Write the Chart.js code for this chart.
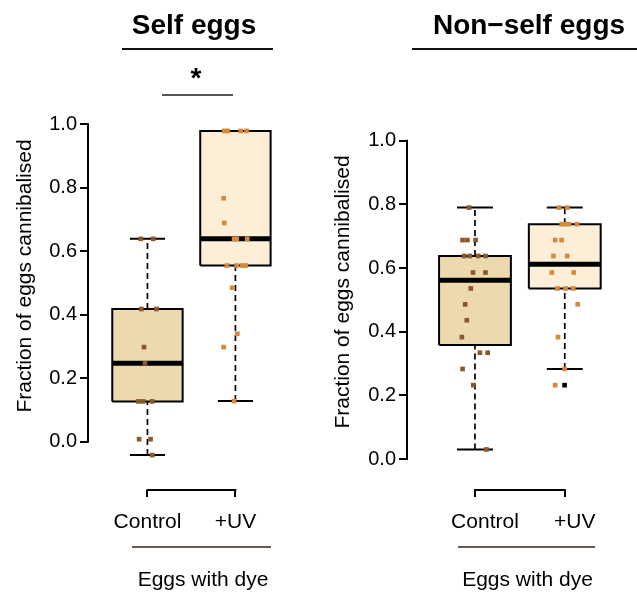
<!DOCTYPE html>
<html>
<head>
<meta charset="utf-8">
<script src="https://cdn.jsdelivr.net/npm/chart.js@4.4.1/dist/chart.umd.min.js"></script>
<style>
  html, body { margin: 0; padding: 0; background: #fff; }
  body { width: 637px; height: 593px; position: relative; overflow: hidden;
         font-family: "Liberation Sans", Arial, sans-serif; }
  canvas { position: absolute; top: 0; }
  .txt { position: absolute; white-space: nowrap; color: #000; line-height: 1; transform: translateX(-50%); }
  .title { font-size: 28px; font-weight: bold; }
  .sub { font-size: 21px; }
  .rule { position: absolute; }
</style>
</head>
<body>
<canvas id="selfChart" style="left:0;width:320px;height:593px" width="320" height="593"></canvas>
<canvas id="nonSelfChart" style="left:320px;width:317px;height:593px" width="317" height="593"></canvas>

<div class="txt title" style="left:194px;top:11.3px">Self eggs</div>
<div class="rule" style="left:122px;top:47.8px;width:151px;height:2.5px;background:#111"></div>
<div class="txt title" style="left:196px;top:63.5px">*</div>
<div class="rule" style="left:162px;top:94.3px;width:71px;height:1.6px;background:#555"></div>

<div class="txt title" style="left:529px;top:11.3px">Non&#8722;self eggs</div>
<div class="rule" style="left:412px;top:47.8px;width:225px;height:2.5px;background:#111"></div>

<div class="rule" style="left:132px;top:545.6px;width:139px;height:2.8px;background:#655b53"></div>
<div class="txt sub" style="left:203px;top:568.2px">Eggs with dye</div>
<div class="rule" style="left:458px;top:545.6px;width:137px;height:2.8px;background:#655b53"></div>
<div class="txt sub" style="left:527.5px;top:568.2px">Eggs with dye</div>

<script>
// ---- data ----
const categories = ['Control', '+UV'];
const yTickValues = [0, 0.2, 0.4, 0.6, 0.8, 1.0];
const yTickLabels = ['0.0', '0.2', '0.4', '0.6', '0.8', '1.0'];
const yAxisTitle = 'Fraction of eggs cannibalised';

// box summaries: [lower whisker, lower quartile, median, upper quartile, upper whisker]
const selfControlBox = [-0.042, 0.127, 0.247, 0.418, 0.639];
const selfUvBox      = [0.128, 0.555, 0.639, 0.979, 0.979];
const nonSelfControlBox = [0.030, 0.358, 0.562, 0.638, 0.790];
const nonSelfUvBox      = [0.283, 0.536, 0.612, 0.738, 0.790];

// individual replicates (fraction eaten) and their horizontal jitter, in category units
const selfControlValues = [0.639, 0.639, 0.418, 0.418, 0.298, 0.247, 0.127, 0.127, 0.127, 0.008, 0.008, -0.042];
const selfControlJitter = [-0.076, 0.065, -0.069, 0.102, -0.039, -0.028, -0.102, -0.05, 0.054, -0.095, 0.035, 0.054];
const selfUvValues = [0.979, 0.979, 0.979, 0.979, 0.767, 0.689, 0.639, 0.639, 0.639, 0.555, 0.555, 0.555, 0.555, 0.485, 0.340, 0.298, 0.128];
const selfUvJitter = [-0.127, -0.089, 0.06, 0.127, -0.134, -0.127, -0.015, 0.015, 0.134, -0.097, 0.015, 0.078, 0.115, -0.037, 0.022, -0.134, -0.015];

const nonSelfControlValues = [0.790, 0.688, 0.688, 0.688, 0.638, 0.638, 0.638, 0.638, 0.586, 0.586, 0.536, 0.486, 0.436, 0.383, 0.334, 0.334, 0.283, 0.232, 0.030];
const nonSelfControlJitter = [-0.066, -0.138, -0.084, 0.007, -0.12, -0.058, 0.036, 0.117, -0.022, 0.117, -0.047, -0.109, -0.091, -0.146, 0.055, 0.142, -0.138, -0.018, 0.128];
const nonSelfUvValues = [0.790, 0.790, 0.738, 0.738, 0.738, 0.738, 0.688, 0.688, 0.638, 0.638, 0.586, 0.586, 0.536, 0.536, 0.536, 0.486, 0.383, 0.283, 0.232];
const nonSelfUvJitter = [-0.064, 0.027, -0.035, 0.009, 0.046, 0.137, -0.107, -0.035, -0.126, 0.027, -0.144, 0.1, -0.082, 0.009, 0.093, 0.144, -0.075, -0.002, -0.107];
const nonSelfUvOutliers = [0.232];
const nonSelfUvOutlierJitter = [-0.002];

// ---- styling ----
const FONT = '"Liberation Sans", Arial, sans-serif';
const BOX_HALF = 0.4;
const CAP_HALF = 0.2;
const fills = ['#ecd9ad', '#fdefd7'];
const dots = ['#8a5829', '#d6893d'];

function seg(x0, y0, x1, y1) { return [{ x: x0, y: y0 }, { x: x1, y: y1 }]; }

function lineDs(data, width, order, dash) {
  return { type: 'scatter', data, showLine: true, borderColor: '#000', borderWidth: width,
           borderDash: dash || [], pointRadius: 0, fill: false, order, borderCapStyle: 'butt' };
}

function boxDatasets(stats, pos, fillColor) {
  const [lo, q1, med, q3, hi] = stats;
  const l = pos - BOX_HALF, r = pos + BOX_HALF;
  const out = [];
  out.push({ type: 'scatter', showLine: true, order: 2, pointRadius: 0,
             data: [{ x: l, y: q1 }, { x: r, y: q1 }, { x: r, y: q3 }, { x: l, y: q3 }, { x: l, y: q1 }],
             borderColor: '#000', borderWidth: 2, borderJoinStyle: 'miter',
             backgroundColor: fillColor, fill: 'shape' });
  out.push(lineDs(seg(l, med, r, med), 5, 1));
  if (lo < q1) {
    out.push(lineDs(seg(pos, lo, pos, q1), 1.7, 3, [6, 4]));
    out.push(lineDs(seg(pos - CAP_HALF, lo, pos + CAP_HALF, lo), 2, 3));
  }
  if (hi > q3) {
    out.push(lineDs(seg(pos, q3, pos, hi), 1.7, 3, [6, 4]));
    out.push(lineDs(seg(pos - CAP_HALF, hi, pos + CAP_HALF, hi), 2, 3));
  }
  return out;
}

function pointDataset(values, jitter, pos, color) {
  return { type: 'scatter', order: 0, pointStyle: 'rect', pointRadius: 3.3, pointBorderWidth: 0,
           pointBackgroundColor: color, backgroundColor: color, borderWidth: 0,
           data: values.map((v, i) => ({ x: pos + jitter[i], y: v })) };
}

// axis lines drawn only over the labelled range, like a classic base-graphics axis
const axisLines = {
  id: 'axisLines',
  afterDraw(chart) {
    const { ctx, scales: { x, y }, chartArea } = chart;
    ctx.save();
    ctx.strokeStyle = '#000';
    ctx.lineWidth = 2;
    ctx.lineCap = 'square';
    ctx.beginPath();
    ctx.moveTo(chartArea.left, y.getPixelForValue(yTickValues[0]));
    ctx.lineTo(chartArea.left, y.getPixelForValue(yTickValues[yTickValues.length - 1]));
    ctx.moveTo(x.getPixelForValue(1), chartArea.bottom);
    ctx.lineTo(x.getPixelForValue(categories.length), chartArea.bottom);
    ctx.stroke();
    ctx.restore();
  }
};

function makeChart(id, cfg) {
  const datasets = [
    ...boxDatasets(cfg.boxes[0], 1, fills[0]),
    ...boxDatasets(cfg.boxes[1], 2, fills[1]),
    pointDataset(cfg.values[0], cfg.jitter[0], 1, dots[0]),
    pointDataset(cfg.values[1], cfg.jitter[1], 2, dots[1])
  ];
  if (cfg.outliers) datasets.push(pointDataset(cfg.outliers, cfg.outlierJitter, 2, '#000'));

  return new Chart(document.getElementById(id), {
    type: 'scatter',
    data: { datasets },
    plugins: [axisLines],
    options: {
      responsive: false,
      animation: false,
      events: [],
      layout: { padding: { left: 0, right: 0, top: cfg.top, bottom: 63 } },
      plugins: { legend: { display: false }, tooltip: { enabled: false } },
      scales: {
        x: {
          type: 'linear', position: 'bottom', min: cfg.xMin, max: cfg.xMax,
          afterBuildTicks: (s) => { s.ticks = categories.map((c, i) => ({ value: i + 1 })); },
          afterFit: (s) => { s.height = 40; },
          border: { display: false },
          grid: { display: true, drawOnChartArea: false, drawTicks: true, tickLength: 7, color: '#000', lineWidth: 2 },
          ticks: { color: '#000', font: { family: FONT, size: 21 }, padding: 13, maxRotation: 0, autoSkip: false,
                   labelOffset: cfg.labelOffset,
                   callback: (v) => categories[Math.round(v) - 1] }
        },
        y: {
          type: 'linear', min: cfg.yMin, max: cfg.yMax,
          afterBuildTicks: (s) => { s.ticks = yTickValues.map(v => ({ value: v })); },
          afterFit: (s) => { s.width = cfg.yWidth; },
          border: { display: false },
          grid: { display: true, drawOnChartArea: false, drawTicks: true, tickLength: 8, color: '#000', lineWidth: 2 },
          ticks: { color: '#000', font: { family: FONT, size: 20 }, padding: 3,
                   callback: (v) => yTickLabels[yTickValues.findIndex(t => Math.abs(t - v) < 1e-9)] },
          title: { display: true, text: yAxisTitle, color: '#000', font: { family: FONT, size: 21 },
                   padding: { top: cfg.titlePad, bottom: 0 } }
        }
      }
    }
  });
}

makeChart('selfChart', {
  boxes: [selfControlBox, selfUvBox],
  values: [selfControlValues, selfUvValues],
  jitter: [selfControlJitter, selfUvJitter],
  xMin: 0.324, xMax: 2.916, yMin: -0.152, yMax: 1.196,
  top: 62, yWidth: 88, titlePad: 13, labelOffset: 0
});

makeChart('nonSelfChart', {
  boxes: [nonSelfControlBox, nonSelfUvBox],
  values: [nonSelfControlValues, nonSelfUvValues],
  jitter: [nonSelfControlJitter, nonSelfUvJitter],
  outliers: nonSelfUvOutliers, outlierJitter: nonSelfUvOutlierJitter,
  xMin: 0.243, xMax: 2.76, yMin: -0.0974, yMax: 1.147,
  top: 94, yWidth: 87, titlePad: 11, labelOffset: 10
});
</script>
</body>
</html>
